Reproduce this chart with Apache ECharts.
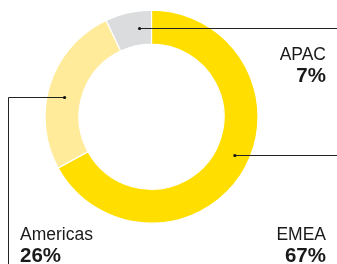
<!DOCTYPE html>
<html>
<head>
<meta charset="utf-8">
<script src="https://cdn.jsdelivr.net/npm/echarts@6/dist/echarts.min.js"></script>
<style>
  html, body { margin: 0; padding: 0; background: #fff; }
  #chart { width: 337px; height: 264px; }
</style>
</head>
<body>
<div id="chart"></div>
<script>
// region shares, %
const regions = ['EMEA', 'Americas', 'APAC']
const shares = [67, 26, 7]
const colors = ['#FFDE00', '#FFEB9A', '#DADCDD']

// ring geometry
const CX = 151.5
const CY = 116.7
const R_IN = 72.5
const R_OUT = 106.5

// leader lines: y of the horizontal run, which side of centre the dot is on,
// how far out the dot sits, where the line runs to, and where the text sits
const leaders = [
  { lineY: 155.5, dotSide: 1, dotR: 92, side: 'right', endX: 337, textX: 326, textY: 225 },
  { lineY: 97.5, dotSide: -1, dotR: 89, side: 'left', endX: 8.5, textX: 20, textY: 225 },
  { lineY: 28.5, dotSide: -1, dotR: 89, side: 'right', endX: 337, textX: 326, textY: 45 },
]

function dotPoint(i) {
  const l = leaders[i]
  const dy = l.lineY - CY
  const dx = Math.sqrt(Math.max(0, l.dotR * l.dotR - dy * dy))
  return [CX + l.dotSide * dx, l.lineY]
}

function leaderPoints(i) {
  const l = leaders[i]
  const d = dotPoint(i)
  return l.side === 'right' ? [d, [l.endX, l.lineY]] : [d, [l.endX, l.lineY], [l.endX, 264]]
}

const chart = echarts.init(document.getElementById('chart'), null, { renderer: 'canvas' })

const graphics = []
leaders.forEach((l, i) => {
  graphics.push({
    type: 'polyline', shape: { points: leaderPoints(i) },
    style: { stroke: '#222', lineWidth: 1, fill: null }, z: 100,
  })
  const p = dotPoint(i)
  graphics.push({ type: 'circle', shape: { cx: p[0], cy: p[1], r: 1.6 }, style: { fill: '#111' }, z: 101 })
})

chart.setOption({
  animation: false,
  backgroundColor: '#fff',
  textStyle: { fontFamily: '"Liberation Sans", Arial, sans-serif' },
  graphic: graphics,
  series: [
    {
      type: 'pie',
      center: [CX, CY],
      radius: [R_IN, R_OUT],
      startAngle: 90,
      clockwise: true,
      silent: true,
      itemStyle: { borderColor: '#fff', borderWidth: 1.2 },
      data: regions.map((n, i) => ({ name: n, value: shares[i], itemStyle: { color: colors[i] } })),
      label: {
        show: true,
        position: 'outside',
        overflow: 'none',
        formatter: (p) => `{n|${p.name}}\n{p|${p.value}%}`,
        rich: {
          n: { fontSize: 17.5, lineHeight: 21, color: '#1a1a1a', fontFamily: '"Liberation Sans", Arial, sans-serif' },
          p: { fontSize: 20.5, lineHeight: 21, fontWeight: 'bold', color: '#1a1a1a', fontFamily: '"Liberation Sans", Arial, sans-serif' },
        },
      },
      labelLine: { show: false },
      labelLayout: (params) => {
        const l = leaders[params.dataIndex]
        return {
          x: l.textX,
          y: l.textY,
          align: l.side === 'right' ? 'right' : 'left',
          verticalAlign: 'top',
        }
      },
    },
  ],
})
</script>
</body>
</html>
